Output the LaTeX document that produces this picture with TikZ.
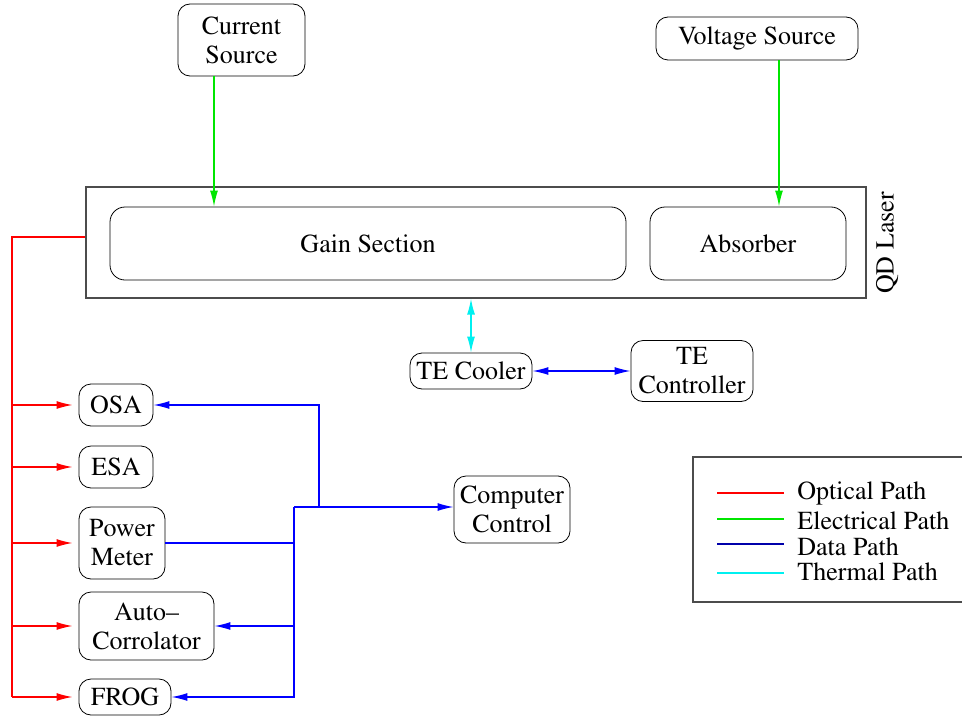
\documentclass[tikz,border=0pt]{standalone}
\usepackage[T1]{fontenc}
\usepackage{times}
\usetikzlibrary{arrows.meta}

\definecolor{optred}{RGB}{255,0,0}
\definecolor{elecgreen}{RGB}{0,230,0}
\definecolor{datablue}{RGB}{0,0,255}
\definecolor{legblue}{RGB}{0,0,170}
\definecolor{thermcyan}{RGB}{0,240,240}

\begin{document}
\begin{tikzpicture}[x=0.5pt, y=-0.5pt, >={Latex[length=8pt,width=4pt]}, font=\fontsize{13}{14.5}\selectfont]
    \tikzset{
        instr/.style args={#1:#2}{draw, rounded corners=6pt, align=center, inner sep=0pt, minimum width=#1pt, minimum height=#2pt},
        optical/.style={optred, line width=0.7pt},
        electrical/.style={elecgreen, line width=0.7pt},
        data/.style={datablue, line width=0.7pt},
        legdata/.style={legblue, line width=0.7pt},
        thermal/.style={thermcyan, line width=0.7pt}
    }
    \useasboundingbox (0,0) rectangle (962,717);

    % sources and laser
    \node [instr=63.5:36] (cur) at (241.5,40) {Current\\Source};
    \node [instr=101:21.5] (volt) at (757,38.5) {Voltage Source};
    \node [draw=black!70, line width=0.6pt, minimum width=390pt, minimum height=55.5pt, inner sep=0pt] (laser) at (476,242.5) {};
    \node [instr=258:36.5, rounded corners=7.5pt] (gain) at (368,243.5) {Gain Section};
    \node [instr=98:36.5, rounded corners=7.5pt] (abs) at (748,243.5) {Absorber};
    \node [rotate=90] (qd) at (887,243) {QD Laser};

    % temperature
    \node [instr=61:18] (cooler) at (471,371) {TE Cooler};
    \node [instr=61:30.5] (ctrl) at (692,371) {TE\\Controller};

    % instruments
    \node [instr=37:21] (osa) at (116,405) {OSA};
    \node [instr=37:21] (esa) at (116,467) {ESA};
    \node [instr=43:36] (pm) at (122,543) {Power\\Meter};
    \node [instr=67.5:34] (auto) at (146.5,626) {Auto--\\Corrolator};
    \node [instr=46:18] (frog) at (125,697) {FROG};
    \node [instr=58:33.5] (cc) at (512,509.5) {Computer\\Control};

    \coordinate (gin) at (214,0);
    \coordinate (ain) at (779,0);
    \coordinate (obus) at (12,237);
    \coordinate (dbus) at (294,507);
    \coordinate (dosa) at (319,0);

    \draw [electrical, ->] (cur.south -| gin) -- (gain.north -| gin);
    \draw [electrical, ->] (volt.south -| ain) -- (abs.north -| ain);
    \draw [thermal, <->] (cooler.north |- laser.south) -- (cooler.north);
    \draw [data, <->] (cooler) -- (ctrl);

    \draw [optical] (laser.west |- obus) -- (obus) -- (obus |- frog);
    \foreach \dev in {osa, esa, pm, auto, frog}
        \draw [optical, ->, shorten >=3pt] (obus |- \dev) -- (\dev.west);

    \draw [data, ->] (dbus) -- (cc.west |- dbus);
    \draw [data, ->] (dosa |- dbus) -- (dosa |- osa) -- (osa.east);
    \draw [data] (pm.east) -- (dbus |- pm.east);
    \draw [data, ->] (dbus) -- (dbus |- frog) -- (frog.east);
    \draw [data, ->] (dbus |- auto.east) -- (auto.east);

    % legend
    \draw [black!70, line width=0.6pt] (962,457) -| (693,602) -- (962,602);
    \foreach \y/\ty/\c/\t in {493/493/optical/Optical Path, 519/521/electrical/Electrical Path, 544/547/legdata/Data Path, 573/572/thermal/Thermal Path} {
        \coordinate (leg\y) at (717,\y);
        \draw [\c] (leg\y) -- +(67,0);
        \node [anchor=west, inner sep=0pt] (legtext\y) at (797,\ty) {\t};
    }
\end{tikzpicture}
\end{document}
